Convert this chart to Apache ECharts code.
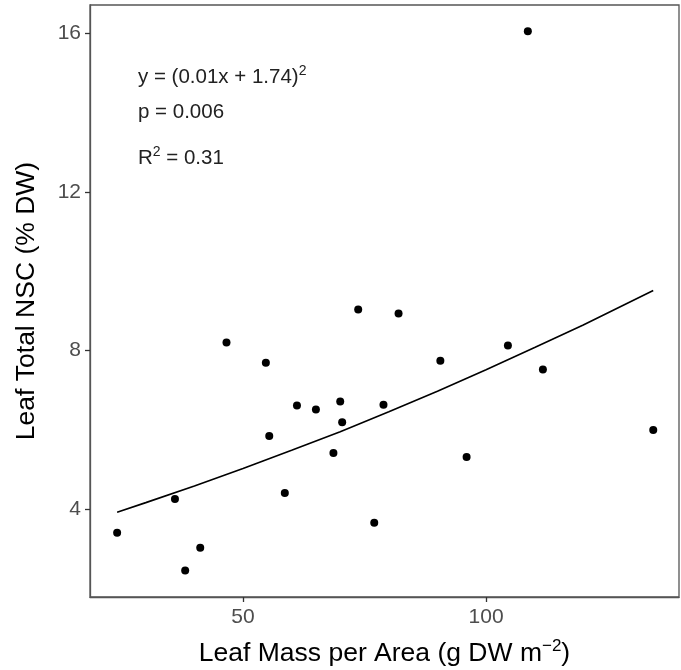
<!DOCTYPE html>
<html>
<head>
<meta charset="utf-8">
<script src="https://cdn.jsdelivr.net/npm/echarts@6/dist/echarts.min.js"></script>
<style>
  html, body { margin: 0; padding: 0; background: #fff; }
  #chart { width: 681px; height: 670px; }
</style>
</head>
<body>
<div id="chart"></div>
<script>
// LMA (x) vs total NSC (y)
const lma = [24.1, 36.0, 38.1, 41.2, 58.6, 73.7, 46.6, 54.7, 61.1, 65.0, 70.0, 70.4,
  78.9, 55.4, 68.6, 77.0, 82.0, 90.6, 104.5, 111.7, 96.0, 134.4, 108.6];
const nsc = [3.40, 4.25, 2.45, 3.02, 4.40, 9.03, 8.20, 7.69, 6.61, 6.51, 6.71, 6.19,
  6.63, 5.84, 5.41, 3.65, 8.93, 7.74, 8.12, 7.52, 5.31, 5.99, 16.05];

// fitted curve, points
const fitX = [24.1, 30, 40, 50, 60, 70, 80, 90, 100, 110, 120, 134.4];
const fitY = [3.92, 4.16, 4.58, 5.02, 5.48, 5.95, 6.45, 6.97, 7.51, 8.07, 8.64, 9.51];

const xTicks = [50, 100];
const yTicks = [4, 8, 12, 16];

let chart = echarts.init(document.getElementById('chart'));

const points = lma.map((x, i) => [x, nsc[i]]);
const fitLine = fitX.map((x, i) => [x, fitY[i]]);

const fontFam = 'Liberation Sans, Arial, sans-serif';
const labelStyle = { color: '#4d4d4d', fontSize: 21, fontFamily: fontFam };
const supStyle = { fontSize: 14, verticalAlign: 'top', padding: [0, 0, 12, 0], fill: '#222' };

let option = {
  animation: false,
  backgroundColor: '#fff',
  grid: {
    left: 90, right: 2, top: 5, bottom: 73,
    outerBoundsMode: 'none',
    show: true, borderColor: '#555', borderWidth: 1.3,
  },
  xAxis: {
    type: 'value',
    min: 18.52, max: 139.7,
    name: 'Leaf Mass per Area (g DW m{sup|\u22122})',
    nameLocation: 'middle',
    nameGap: 41,
    nameTextStyle: {
      color: '#000', fontSize: 26.5, fontFamily: fontFam,
      rich: { sup: { fontSize: 17, verticalAlign: 'top', padding: [0, 0, 14, 0], color: '#000' } },
    },
    axisLine: { show: true, lineStyle: { color: '#555', width: 1.3 } },
    axisTick: { show: true, length: 5, customValues: xTicks, lineStyle: { color: '#333', width: 1.3 } },
    axisLabel: Object.assign({ customValues: xTicks, margin: 10 }, labelStyle),
    splitLine: { show: false },
  },
  yAxis: {
    type: 'value',
    min: 1.78, max: 16.71,
    name: 'Leaf Total NSC (% DW)',
    nameLocation: 'middle',
    nameGap: 50,
    nameTextStyle: { color: '#000', fontSize: 26.5, fontFamily: fontFam },
    axisLine: { show: true, lineStyle: { color: '#555', width: 1.3 } },
    axisTick: { show: true, length: 5, customValues: yTicks, lineStyle: { color: '#333', width: 1.3 } },
    axisLabel: Object.assign({ customValues: yTicks, margin: 9 }, labelStyle),
    splitLine: { show: false },
  },
  graphic: [
    {
      type: 'text', left: 138, top: 64,
      style: {
        text: 'y = (0.01x + 1.74){s|2}',
        fill: '#222', font: '20.5px ' + fontFam,
        rich: { s: supStyle },
      },
    },
    {
      type: 'text', left: 138, top: 102,
      style: { text: 'p = 0.006', fill: '#222', font: '20.5px ' + fontFam },
    },
    {
      type: 'text', left: 138, top: 145,
      style: {
        text: 'R{s|2} = 0.31',
        fill: '#222', font: '20.5px ' + fontFam,
        rich: { s: supStyle },
      },
    },
  ],
  series: [
    {
      type: 'line',
      data: fitLine,
      symbol: 'none',
      lineStyle: { color: '#000', width: 1.6 },
      z: 2,
    },
    {
      type: 'scatter',
      data: points,
      symbolSize: 8,
      itemStyle: { color: '#000', opacity: 1 },
      z: 3,
    },
  ],
};
chart.setOption(option);
</script>
</body>
</html>
